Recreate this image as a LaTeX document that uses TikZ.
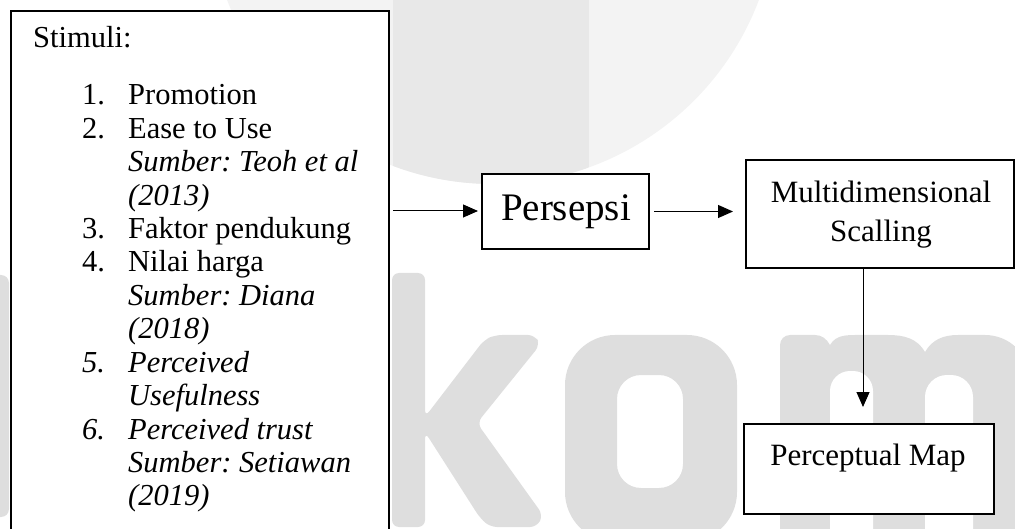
\documentclass[tikz,border=0pt]{standalone}
\usepackage{fontspec}
\setmainfont{Liberation Serif}
\usetikzlibrary{arrows.meta}
\definecolor{wmc}{HTML}{F3F3F3}
\definecolor{wmb}{HTML}{E8E8E8}
\definecolor{wml}{HTML}{DEDEDE}
\begin{document}
\frenchspacing
\begin{tikzpicture}[x=1pt,y=-1pt,
  box/.style={draw, line width=2pt, fill=white, inner sep=0pt, anchor=north west},
  txt/.style={font=\fontsize{30.5}{33.4}\selectfont, inner sep=0pt, anchor=base west},
  rtxt/.style={font=\fontsize{31}{35}\selectfont, inner sep=0pt, anchor=base},
  arr/.style={-{Triangle[length=15pt,width=13pt]}, line width=1pt}]
\useasboundingbox (0,0) rectangle (1015,529);
% watermark
\begin{scope}
  \clip (493,-100) circle (284pt);
  \fill[wmc] (150,-420) rectangle (850,220);
  \fill[wmb] (393,-420) rectangle (589,220);
\end{scope}
\fill[wml, rounded corners=8pt] (-30,275) rectangle (9,517);
\fill[wml, rounded corners=7pt] (392,273) -- (425,273) -- (425,417) -- (484,340) -- (495,335) -- (535,335) -- (540,345) -- (477,423) -- (543,515) -- (537,527) -- (490,527) -- (480,518) -- (425,432) -- (425,527) -- (392,527) -- cycle;
\fill[wml, even odd rule] [rounded corners=50pt] (565,335) rectangle (737,542) [rounded corners=24pt] (617,375) rectangle (683,488);
\fill[wml] (780,545) -- (780,345) to[out=90,in=180] (790,335) -- (815,335) to[out=0,in=120] (830,345) to[out=60,in=180] (860,335) -- (888,335) to[out=0,in=120] (925,352) to[out=60,in=180] (958,335) -- (985,335) to[out=0,in=90] (1030,380) -- (1030,545) -- cycle;
\fill[white, rounded corners=20pt] (830,560) -- (830,371) -- (873,371) -- (873,560) -- cycle;
\fill[white, rounded corners=22pt] (925,560) -- (925,375) -- (973,375) -- (973,560) -- cycle;
% boxes
\node[box, minimum width=378pt, minimum height=540pt] (stim) at (10,10) {};
\node[box, minimum width=167pt, minimum height=75pt] (pers) at (481,173) {};
\node[box, minimum width=268pt, minimum height=108pt] (mds) at (745,159) {};
\node[box, minimum width=250pt, minimum height=90pt] (pm) at (743,423) {};
% list text
\node[txt] (t0) at (33,48) {Stimuli:};
\node[txt] (n1) at (82,105) {1.};
\node[txt] (l1) at (128,105) {Promotion};
\node[txt] (n2) at (82,138.4) {2.};
\node[txt] (l2) at (128,138.4) {Ease to Use};
\node[txt] (l2a) at (128,171.8) {\itshape Sumber: Teoh et al};
\node[txt] (l2b) at (128,205.2) {\itshape (2013)};
\node[txt] (n3) at (82,238.6) {3.};
\node[txt] (l3) at (128,238.6) {Faktor pendukung};
\node[txt] (n4) at (82,272) {4.};
\node[txt] (l4) at (128,272) {Nilai harga};
\node[txt] (l4a) at (128,305.4) {\itshape Sumber: Diana};
\node[txt] (l4b) at (128,338.8) {\itshape (2018)};
\node[txt] (n5) at (82,372.2) {\itshape 5.};
\node[txt] (l5) at (128,372.2) {\itshape Perceived};
\node[txt] (l5a) at (128,405.6) {\itshape Usefulness};
\node[txt] (n6) at (82,439) {\itshape 6.};
\node[txt] (l6) at (128,439) {\itshape Perceived trust};
\node[txt] (l6a) at (128,472.4) {\itshape Sumber: Setiawan};
\node[txt] (l6b) at (128,505.8) {\itshape (2019)};
% right texts
\node[inner sep=0pt, anchor=base, font=\fontsize{39}{45}\selectfont] (perst) at (566,221) {Persepsi};
\node[rtxt] (mdst1) at (881,203) {Multidimensional};
\node[rtxt] (mdst2) at (881,242) {Scalling};
\node[rtxt] (pmt) at (868,465) {Perceptual Map};
% connectors
\coordinate (s0) at (393,211);
\coordinate (vx) at (863,0);
\draw[arr, shorten >=3pt] (s0) -- (s0 -| pers.west);
\draw[arr, shorten <=4pt, shorten >=12pt] (pers.east) -- (pers.east -| mds.west);
\draw[arr, shorten >=16pt] (vx |- mds.south) -- (vx |- pm.north);
\end{tikzpicture}
\end{document}
